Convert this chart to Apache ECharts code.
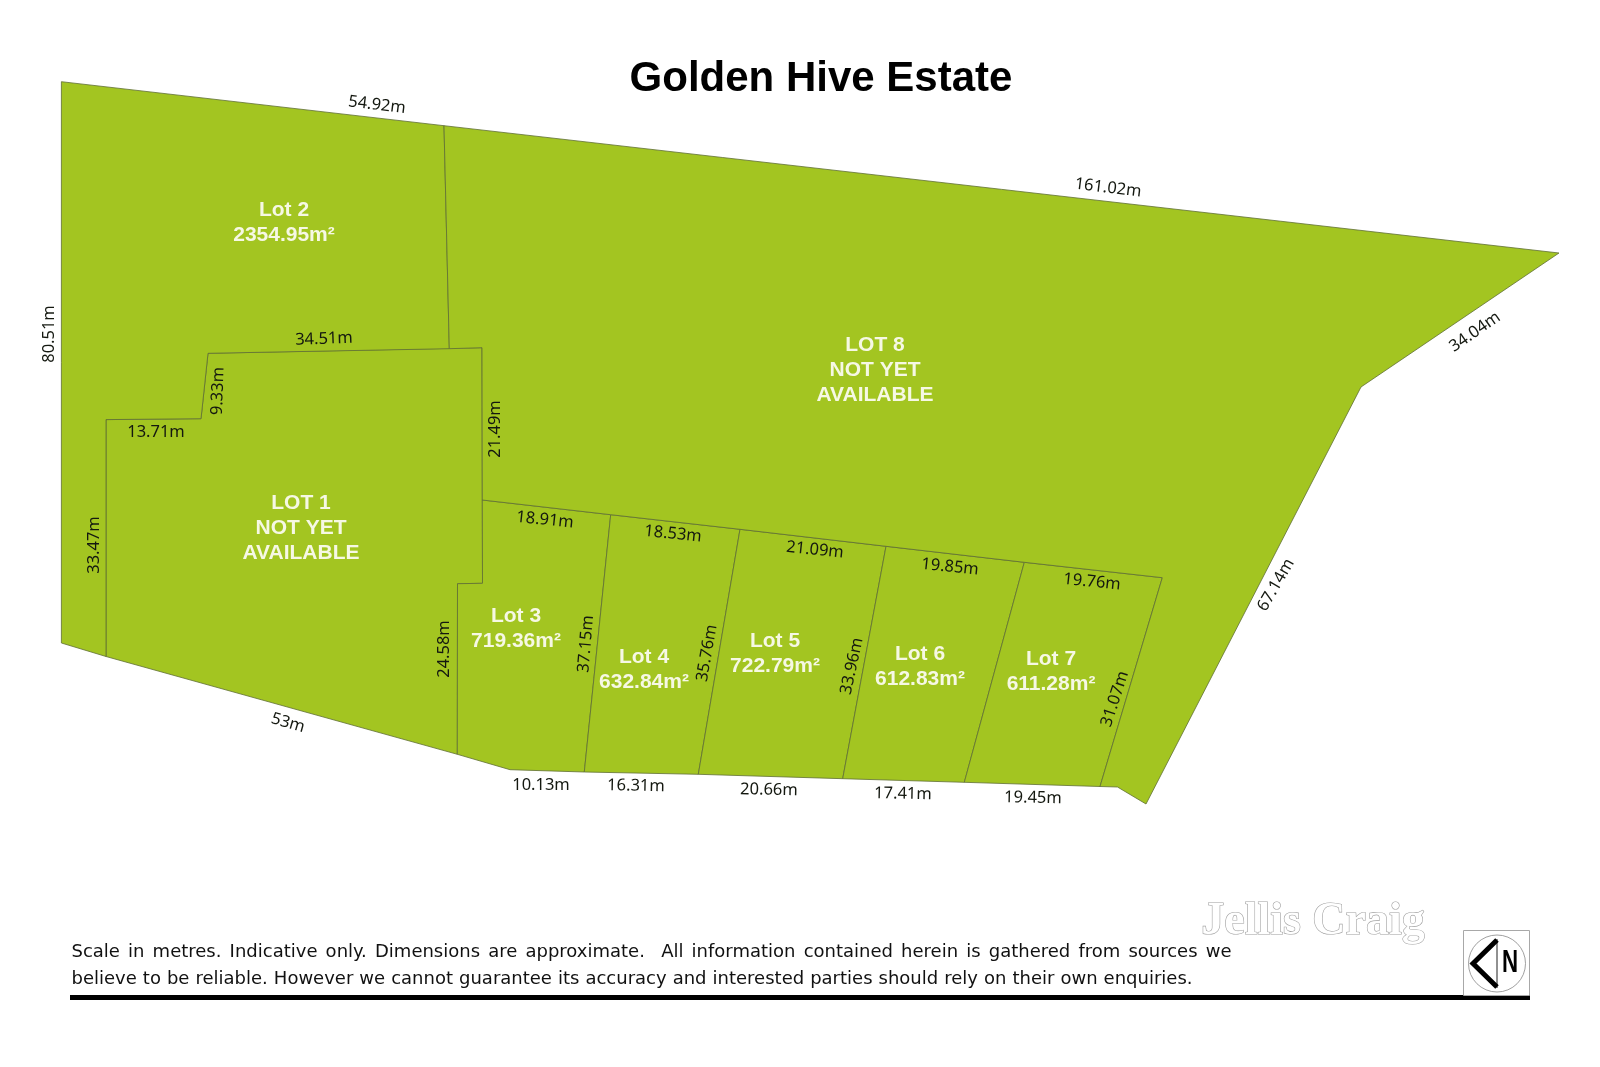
<!DOCTYPE html>
<html>
<head>
<meta charset="utf-8">
<title>Golden Hive Estate</title>
<style>
html, body { margin: 0; padding: 0; background: #fff; }
#site-plan { width: 1600px; height: 1067px; }
</style>
<script src="https://cdn.jsdelivr.net/npm/echarts@6/dist/echarts.min.js"></script>
</head>
<body>
<div id="site-plan"></div>
<script>
var lot1Corners = [[106,656.5],[106,419.6],[201,418.7],[208,353.3],[482,347.7],[482.3,500],[482.5,583.3],[457.5,583.7],[457.3,754.3]];
var lot2Corners = [[61.4,81.7],[444,125.7],[449.3,348.7],[208,353.3],[201,418.7],[106,419.6],[106,656.5],[61.4,643]];
var lot3Corners = [[482.3,500],[610.7,514.7],[584.3,772],[510,769.7],[457.3,754.3],[457.5,583.7],[482.5,583.3]];
var lot4Corners = [[610.7,514.7],[740,529.3],[698.3,774.3],[584.3,772]];
var lot5Corners = [[740,529.3],[886,546.3],[842.7,778.7],[698.3,774.3]];
var lot6Corners = [[886,546.3],[1024.3,562.3],[964.3,782.3],[842.7,778.7]];
var lot7Corners = [[1024.3,562.3],[1162.3,577.7],[1100,786.5],[964.3,782.3]];
var lot8Corners = [[444,125.7],[1559,253],[1361,387],[1146,804],[1117.5,787],[1100,786.5],[1162.3,577.7],[1024.3,562.3],[886,546.3],[740,529.3],[610.7,514.7],[482.3,500],[482,347.7],[449.3,348.7]];
var allLots = [lot1Corners, lot2Corners, lot3Corners, lot4Corners, lot5Corners, lot6Corners, lot7Corners, lot8Corners];

/* lot captions */
var lotCaptions = ['Lot 2\n2354.95m²', 'LOT 8\nNOT YET\nAVAILABLE', 'LOT 1\nNOT YET\nAVAILABLE', 'Lot 3\n719.36m²', 'Lot 4\n632.84m²', 'Lot 5\n722.79m²', 'Lot 6\n612.83m²', 'Lot 7\n611.28m²'];
var lotCaptionX = [284, 875, 301, 516, 644, 775, 920, 1051];
var lotCaptionY = [223, 370, 528, 629, 670, 654, 667, 672];

/* boundary dimensions */
var dimensionText = ['54.92m','161.02m','34.04m','80.51m','34.51m','9.33m','13.71m','21.49m','33.47m','18.91m','18.53m','21.09m','19.85m','19.76m','37.15m','35.76m','33.96m','31.07m','24.58m','53m','10.13m','16.31m','20.66m','17.41m','19.45m','67.14m'];
var dimensionX = [377,1108,1475,49,324,218,156,495,94,545,673,815,950,1092,586,707,852,1115,444,288,541,636,769,903,1033,1276];
var dimensionY = [105,188,332,334,339,391,432,429,545,520,534,550,567,582,644,653,666,699,649,723,785,786,790,794,798,585];
var dimensionAngle = [-7,-7,35,90,2,88,0,90,90,-6,-6,-6,-6,-6,85,80,78,72,90,-16,0,-1,-1,-1,-1,60];

var footnoteLines = [
	'Scale in metres. Indicative only. Dimensions are approximate.  All information contained herein is gathered from sources we',
	'believe to be reliable. However we cannot guarantee its accuracy and interested parties should rely on their own enquiries.'
];

var myChart = echarts.init(document.getElementById('site-plan'));

function drawLot(params, api) {
	var corners = allLots[api.value(0)];
	var points = [];
	for (var i = 0; i < corners.length; i++) {
		points.push(api.coord(corners[i]));
	}
	return {
		type: 'polygon',
		shape: { points: points },
		style: { fill: '#a3c521', stroke: '#5f6e33', lineWidth: 0.8 }
	};
}

function drawCaption(params, api) {
	var pos = api.coord([lotCaptionX[api.value(0)], lotCaptionY[api.value(0)]]);
	return {
		type: 'text',
		x: pos[0],
		y: pos[1],
		style: {
			text: lotCaptions[api.value(0)],
			fill: '#f6f8e4',
			font: 'bold 21px "Liberation Sans", Arial, sans-serif',
			lineHeight: 25,
			align: 'center',
			verticalAlign: 'middle'
		}
	};
}

function drawDimension(params, api) {
	var i = api.value(0);
	var pos = api.coord([dimensionX[i], dimensionY[i]]);
	return {
		type: 'text',
		x: pos[0],
		y: pos[1],
		rotation: dimensionAngle[i] * Math.PI / 180,
		style: {
			text: dimensionText[i],
			fill: '#141810',
			font: '16.5px "Noto Sans", sans-serif',
			align: 'center',
			verticalAlign: 'middle'
		}
	};
}

function indexList(arr) {
	return arr.map(function(item, i) { return [i]; });
}

var footerFont = '18px "DejaVu Sans", sans-serif';

/* footnote lines are justified in the plan, so lay them out word by word */
function justifiedLine(text, left, right, y) {
	var ctx = document.createElement('canvas').getContext('2d');
	ctx.font = footerFont;
	var words = text.split(' ');
	var used = 0;
	var i;
	for (i = 0; i < words.length; i++) {
		used += ctx.measureText(words[i]).width;
	}
	var gap = (right - left - used) / (words.length - 1);
	var x = left;
	var items = [];
	for (i = 0; i < words.length; i++) {
		if (words[i] !== '') {
			items.push({ type: 'text', x: x, y: y, style: { text: words[i], fill: '#111', font: footerFont, verticalAlign: 'middle' } });
			x += ctx.measureText(words[i]).width;
		}
		x += gap;
	}
	return items;
}

var option = {
	animation: false,
	backgroundColor: '#fff',
	title: {
		text: 'Golden Hive Estate',
		left: 816,
		top: 53,
		textAlign: 'center',
		textStyle: {
			color: '#000',
			fontSize: 42,
			fontWeight: 'bold',
			fontFamily: '"Liberation Sans", Arial, sans-serif'
		}
	},
	grid: { left: 0, right: 0, top: 0, bottom: 0 },
	xAxis: { type: 'value', min: 0, max: 1600, show: false },
	yAxis: { type: 'value', min: 0, max: 1067, inverse: true, show: false },
	series: [
		{ type: 'custom', renderItem: drawLot, data: indexList(allLots), silent: true, clip: false, z: 2 },
		{ type: 'custom', renderItem: drawCaption, data: indexList(lotCaptions), silent: true, clip: false, z: 3 },
		{ type: 'custom', renderItem: drawDimension, data: indexList(dimensionText), silent: true, clip: false, z: 3 }
	],
	graphic: justifiedLine(footnoteLines[0], 71.5, 1231.5, 952).concat(justifiedLine(footnoteLines[1], 71.5, 1192.5, 979)).concat([
		{ type: 'rect', shape: { x: 70, y: 995, width: 1460, height: 5 }, style: { fill: '#000' } },
		/* logo */
		{ type: 'text', x: 1313, y: 922, style: { text: 'Jellis Craig', fill: '#fff', stroke: '#a0a0a0', lineWidth: 1.2, font: 'bold 46px "Liberation Serif", serif', align: 'center', verticalAlign: 'middle', shadowColor: 'rgba(0,0,0,0.55)', shadowBlur: 3, shadowOffsetX: 1, shadowOffsetY: 2 } },
		/* north point */
		{ type: 'rect', shape: { x: 1463.5, y: 930.5, width: 66, height: 65 }, style: { fill: 'none', stroke: '#a8a8a8', lineWidth: 1 } },
		{ type: 'circle', shape: { cx: 1497, cy: 963.5, r: 28.5 }, style: { fill: 'none', stroke: '#888', lineWidth: 0.8 } },
		{ type: 'line', shape: { x1: 1497, y1: 939, x2: 1497, y2: 988 }, style: { stroke: '#222', lineWidth: 1 } },
		{ type: 'polyline', shape: { points: [[1497, 940], [1473, 963.5], [1497, 987]] }, style: { fill: 'none', stroke: '#000', lineWidth: 5 } },
		{ type: 'text', x: 1510, y: 963.5, scaleX: 0.72, style: { text: 'N', fill: '#000', font: 'bold 31px "Liberation Sans", sans-serif', align: 'center', verticalAlign: 'middle' } }
	])
};

myChart.setOption(option);
</script>
</body>
</html>
